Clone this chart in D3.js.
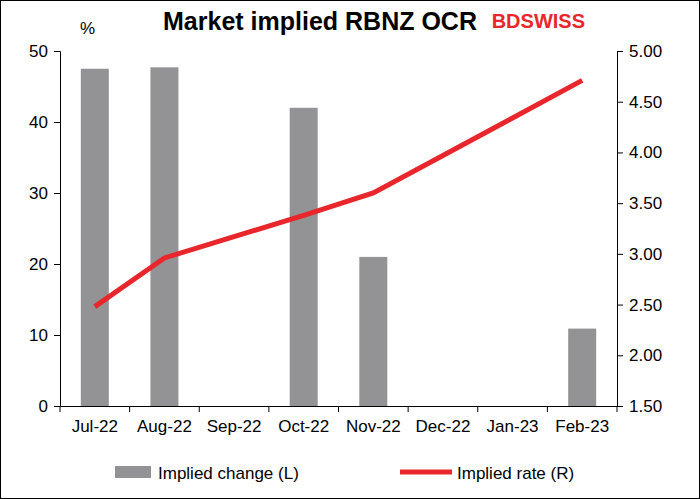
<!DOCTYPE html>
<html><head><meta charset="utf-8">
<script src="https://cdn.jsdelivr.net/npm/d3@7"></script>
<style>body{margin:0;background:#fff;font-family:"Liberation Sans",Arial,sans-serif}</style>
</head><body>
<svg id="chart" width="700" height="499"></svg>
<script>
// chart data
var months = ["Jul-22","Aug-22","Sep-22","Oct-22","Nov-22","Dec-22","Jan-23","Feb-23"];
var change = [47.5, 47.7, 0, 42, 21, 0, 0, 10.9];
var rate = [2.48, 2.96, 3.17, 3.38, 3.60, 3.97, 4.34, 4.71];
var leftTicks = [0,10,20,30,40,50];
var rightTicks = [1.5,2,2.5,3,3.5,4,4.5,5];

var svg = d3.select("#chart");
var plotLeft = 60, plotRight = 617, plotTop = 51, plotBottom = 406;

svg.append("rect").attr("x",0.5).attr("y",0.5).attr("width",699).attr("height",498)
   .attr("fill","#fff").attr("stroke","#000");

var x = d3.scaleBand().domain(months).range([plotLeft, plotRight]);
var yL = d3.scaleLinear().domain([0,50]).range([plotBottom, plotTop]);
var yR = d3.scaleLinear().domain([1.5,5]).range([plotBottom, plotTop]);

// bars
svg.selectAll(".bar").data(months).enter().append("rect")
   .attr("x", function(d){ return x(d) + x.bandwidth()/2 - 14; })
   .attr("width", 28)
   .attr("y", function(d,i){ return yL(change[i]); })
   .attr("height", function(d,i){ return plotBottom - yL(change[i]); })
   .attr("fill", "#939396");

// line
var line = d3.line()
   .x(function(d,i){ return x(months[i]) + x.bandwidth()/2; })
   .y(function(d){ return yR(d); });
svg.append("path").datum(rate).attr("d", line)
   .attr("fill","none").attr("stroke","#e8262c").attr("stroke-width",5);

// axes
var gx = svg.append("g").attr("transform","translate(0,"+plotBottom+")")
   .call(d3.axisBottom(x).tickSize(0).tickPadding(14));
gx.selectAll("text").attr("font-size",17).attr("fill","#000").attr("font-family","Liberation Sans, Arial");
gx.select(".domain").attr("stroke","#000");
gx.selectAll(".xt").data(d3.range(months.length+1)).enter().append("line")
   .attr("x1", function(i){ return plotLeft + i*x.step(); })
   .attr("x2", function(i){ return plotLeft + i*x.step(); })
   .attr("y1",0).attr("y2",6).attr("stroke","#000");

var gl = svg.append("g").attr("transform","translate("+plotLeft+",0)")
   .call(d3.axisLeft(yL).tickValues(leftTicks).tickSize(6).tickPadding(6));
var gr = svg.append("g").attr("transform","translate("+plotRight+",0)")
   .call(d3.axisRight(yR).tickValues(rightTicks).tickFormat(d3.format(".2f")).tickSize(6).tickPadding(6));
[gl, gr].forEach(function(g){
  g.selectAll("text").attr("font-size",17).attr("fill","#000").attr("font-family","Liberation Sans, Arial");
  g.selectAll("line,.domain").attr("stroke","#000");
});

// title and labels
svg.append("text").attr("x",320).attr("y",30).attr("text-anchor","middle")
   .attr("font-size",25).attr("font-weight","bold").text("Market implied RBNZ OCR");
svg.append("text").attr("x",80).attr("y",34).attr("font-size",17).text("%");
svg.append("text").attr("x",585).attr("y",28).attr("text-anchor","end")
   .attr("font-size",20).attr("font-weight","bold").attr("fill","#e8262c").text("BDSWISS");

// legend
svg.append("rect").attr("x",115).attr("y",466).attr("width",36).attr("height",12).attr("fill","#939396");
svg.append("text").attr("x",158).attr("y",479).attr("font-size",17).text("Implied change (L)");
svg.append("line").attr("x1",400).attr("x2",452).attr("y1",472).attr("y2",472)
   .attr("stroke","#e8262c").attr("stroke-width",5);
svg.append("text").attr("x",457).attr("y",479).attr("font-size",17).text("Implied rate (R)");
</script>
</body></html>
